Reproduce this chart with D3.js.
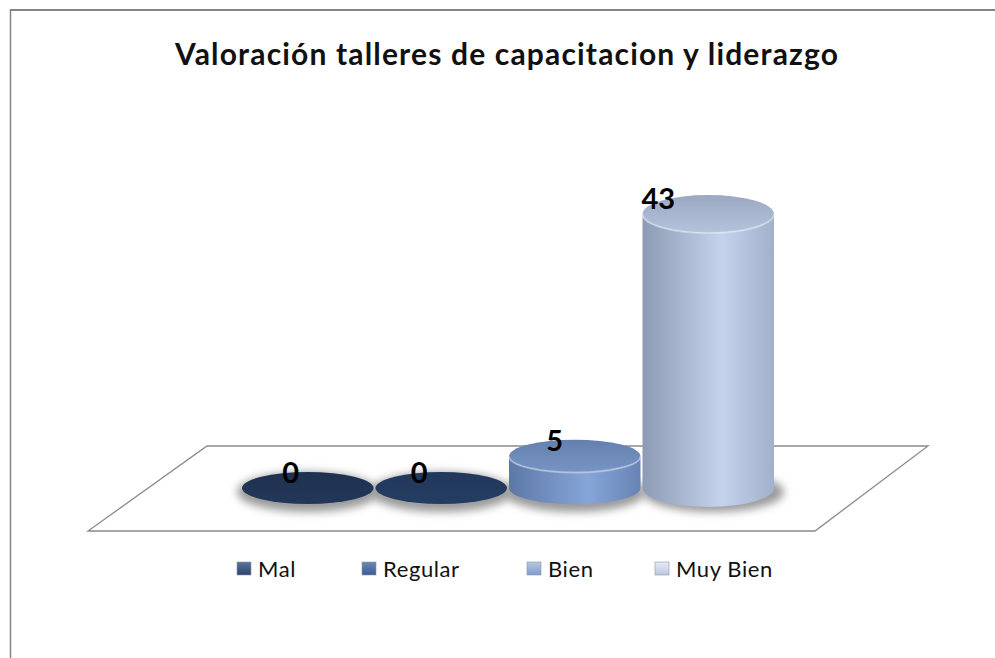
<!DOCTYPE html>
<html><head><meta charset="utf-8">
<script src="https://cdn.jsdelivr.net/npm/d3@7"></script>
<style>body{margin:0;background:#fff}svg{display:block}</style>
</head><body>
<script>
const categories = ["Mal", "Regular", "Bien", "Muy Bien"];
const values = [0, 0, 5, 43];
const chartTitle = "Valoración talleres de capacitacion y liderazgo";

const W = 995, H = 658;
const svg = d3.select("body").append("svg").attr("width", W).attr("height", H);
const defs = svg.append("defs");

const sideColors = [
  ["#1a2a44", "#22375a", "#1a2a44"],
  ["#1e3050", "#27406a", "#1e3050"],
  ["#5c78a6", "#86a5d8", "#6683b3"],
  ["#8d9ab3", "#c4d2ec", "#a2b0cb"]
];
const topColors = [
  ["#1f3150", "#22375a"],
  ["#22385c", "#253d62"],
  ["#6480ae", "#7694c4"],
  ["#9aa8c2", "#b4c2dc"]
];
const legendColors = [
  ["#5a7398", "#2c4670"],
  ["#6a88b8", "#3a5d92"],
  ["#b8c8e4", "#7e9ccd"],
  ["#e6ebf4", "#bcc8de"]
];
categories.forEach((c, i) => {
  const g = defs.append("linearGradient").attr("id", "side" + i).attr("x1", 0).attr("x2", 1).attr("y1", 0).attr("y2", 0);
  g.append("stop").attr("offset", "0%").attr("stop-color", sideColors[i][0]);
  g.append("stop").attr("offset", "60%").attr("stop-color", sideColors[i][1]);
  g.append("stop").attr("offset", "100%").attr("stop-color", sideColors[i][2]);
  const t = defs.append("linearGradient").attr("id", "top" + i).attr("x1", 0).attr("x2", 0).attr("y1", 0).attr("y2", 1);
  t.append("stop").attr("offset", "0%").attr("stop-color", topColors[i][0]);
  t.append("stop").attr("offset", "100%").attr("stop-color", topColors[i][1]);
  const l = defs.append("linearGradient").attr("id", "leg" + i).attr("x1", 0).attr("x2", 0).attr("y1", 0).attr("y2", 1);
  l.append("stop").attr("offset", "0%").attr("stop-color", legendColors[i][0]);
  l.append("stop").attr("offset", "100%").attr("stop-color", legendColors[i][1]);
});
defs.append("filter").attr("id", "blur").attr("x", "-30%").attr("y", "-50%").attr("width", "160%").attr("height", "200%")
  .append("feGaussianBlur").attr("stdDeviation", 4);

// frame (top and left edges visible)
svg.append("line").attr("x1", 10).attr("x2", W).attr("y1", 10).attr("y2", 10).attr("stroke", "#858585").attr("stroke-width", 2);
svg.append("line").attr("x1", 10.5).attr("x2", 10.5).attr("y1", 9).attr("y2", H).attr("stroke", "#858585").attr("stroke-width", 1.5);

// title
svg.append("text").attr("x", 175).attr("y", 65)
  .attr("textLength", 663).attr("lengthAdjust", "spacing")
  .style("font-family", "Lato, 'Open Sans', sans-serif").style("font-weight", "bold").style("font-size", "30px")
  .attr("fill", "#111").text(chartTitle);

// floor
const floor = [[207, 446], [928, 446], [815, 531], [88, 531]];
svg.append("path").attr("d", d3.line()(floor) + "Z").attr("fill", "#fff").attr("stroke", "#8a8a8a").attr("stroke-width", 1.3);

const x = d3.scaleBand().domain(categories).range([241, 775]).paddingInner(0).paddingOuter(0);
const y = d3.scaleLinear().domain([0, 43]).range([488, 214]);
const ry = v => 16 + v * 0.07;

const g = svg.append("g");
// shadows
categories.forEach((c, i) => {
  const cx = x(c) + x.bandwidth() / 2, rx = x.bandwidth() / 2;
  g.append("ellipse").attr("cx", cx + (values[i] > 20 ? 5 : 0)).attr("cy", y(0) + 4).attr("rx", rx + 4).attr("ry", ry(0) + 4)
    .attr("fill", "#9a9a9a").attr("filter", "url(#blur)");
});
categories.forEach((c, i) => {
  const v = values[i];
  const cx = x(c) + x.bandwidth() / 2, rx = x.bandwidth() / 2 - 1;
  const yb = y(0), yt = y(v), r = ry(v);
  if (v > 0) {
    const d = `M${cx - rx},${yt} L${cx - rx},${yb} A${rx},${r} 0 0 0 ${cx + rx},${yb} L${cx + rx},${yt} A${rx},${r} 0 0 1 ${cx - rx},${yt} Z`;
    g.append("path").attr("d", d).attr("fill", `url(#side${i})`);
  }
  g.append("ellipse").attr("cx", cx).attr("cy", yt).attr("rx", rx).attr("ry", r).attr("fill", `url(#top${i})`);
  if (v > 0) {
    g.append("path").attr("d", `M${cx - rx},${yt} A${rx},${r} 0 0 0 ${cx + rx},${yt}`)
      .attr("fill", "none").attr("stroke", "#ffffff").attr("stroke-opacity", 0.35).attr("stroke-width", 2);
  }
});

// value labels
const labelDx = [-17, -22, -20, -50];
categories.forEach((c, i) => {
  const cx = x(c) + x.bandwidth() / 2;
  svg.append("text").attr("x", cx + labelDx[i]).attr("y", y(values[i]) - 5).attr("text-anchor", "middle")
    .style("font-family", "Lato, sans-serif").style("font-weight", "bold").style("font-size", "29px")
    .attr("fill", "#000").text(values[i]);
});

// legend
const legendX = [237, 362, 527, 655];
const lg = svg.append("g");
categories.forEach((c, i) => {
  const gi = lg.append("g").attr("transform", `translate(${legendX[i]},562)`);
  gi.append("rect").attr("width", 14).attr("height", 13).attr("fill", `url(#leg${i})`).attr("stroke", "#8a96a8").attr("stroke-width", 0.6);
  gi.append("text").attr("x", 21).attr("y", 14.5).style("font-family", "Lato, sans-serif").style("font-size", "22px")
    .style("letter-spacing", "0.6px").attr("fill", "#111").text(c);
});
</script>
</body></html>
